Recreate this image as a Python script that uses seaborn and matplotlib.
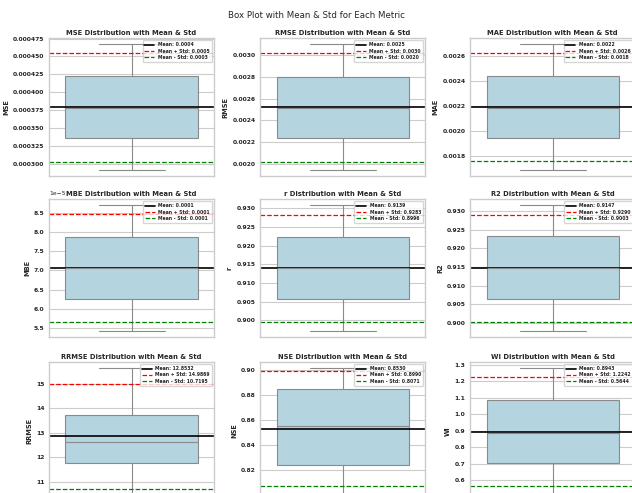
import matplotlib
matplotlib.use("Agg")
import matplotlib.pyplot as plt
import seaborn as sns
import pandas as pd

# ---------- Data ----------
metrics = ["MSE", "RMSE", "MAE", "MBE", "r", "R2", "RRMSE", "NSE", "WI"]

# five runs per metric
mse_values = [0.0002915, 0.0003356, 0.0003775, 0.0004225, 0.000467]
rmse_values = [0.001945, 0.002235, 0.00251, 0.002804, 0.003101]
mae_values = [0.001691, 0.001944, 0.002185, 0.002438, 0.0026957]
mbe_values = [5.431e-5, 6.25e-5, 7.06e-5, 7.879e-5, 8.698e-5]
r_values = [0.89726, 0.90566, 0.91393, 0.92239, 0.9308]
r2_values = [0.89794, 0.90638, 0.91466, 0.92316, 0.9315]
rrmse_values = [10.52, 11.752, 12.628, 13.733, 15.62]
nse_values = [0.801, 0.824, 0.85553, 0.88437, 0.9013]
wi_values = [0.516, 0.7016, 0.888, 1.085, 1.2797]

metric_means = [0.000379, 0.00252, 0.002193, 7.06e-5, 0.91393, 0.91466, 12.8532, 0.85305, 0.8943]
metric_stds = [0.000076, 0.0005, 0.000434, 1.41e-5, 0.01437, 0.01435, 2.1337, 0.04595, 0.3299]

df = pd.DataFrame(dict(zip(metrics, [mse_values, rmse_values, mae_values, mbe_values,
                                     r_values, r2_values, rrmse_values, nse_values, wi_values])))

# ---------- Style ----------
sns.set_theme(style="whitegrid")
plt.rcParams["font.family"] = ["DejaVu Sans"]
plt.rcParams["font.weight"] = "bold"
plt.rcParams["ytick.labelsize"] = 4.3
plt.rcParams["axes.labelweight"] = "bold"
plt.rcParams["axes.titleweight"] = "bold"
plt.rcParams["axes.linewidth"] = 1.0
plt.rcParams["grid.linewidth"] = 0.8

# ---------- Layout (pixels, figure is cropped on right/bottom like the original) ----------
W, H = 632, 493
col_left = [49, 260, 470]
row_top = [38, 199, 362]
ax_w, ax_h = 165, 138

fig = plt.figure(figsize=(W / 100, H / 100), dpi=100)
fig.suptitle("Box Plot with Mean & Std for Each Metric", fontsize=6.2, fontweight="normal",
             y=1 - 16 / H, va="center")

for i, metric in enumerate(metrics):
    row, col = divmod(i, 3)
    ax = fig.add_axes([col_left[col] / W, 1 - (row_top[row] + ax_h) / H, ax_w / W, ax_h / H])
    sns.boxplot(y=df[metric], ax=ax, color="lightblue", linewidth=0.8, linecolor="#8a8a8a")

    m, s = metric_means[i], metric_stds[i]
    ax.axhline(m, color="black", linewidth=1.2, label=f"Mean: {m:.4f}")
    ax.axhline(m + s, color="red", linestyle="--", linewidth=0.9, label=f"Mean + Std: {m + s:.4f}")
    ax.axhline(m - s, color="green", linestyle="--", linewidth=0.9, label=f"Mean - Std: {m - s:.4f}")

    ax.set_title(f"{metric} Distribution with Mean & Std", fontsize=4.9, pad=2.5)
    ax.set_ylabel(metric, fontsize=4.8, labelpad=2.5)
    ax.set_xlabel("")
    ax.set_xticklabels([])
    ax.tick_params(axis="both", length=0)
    ax.tick_params(axis="y", pad=3.3)
    ax.yaxis.get_offset_text().set_fontweight("normal")
    ax.yaxis.get_offset_text().set_fontsize(4.3)
    ax.legend(loc="upper right", fontsize=3.3, borderpad=0.4, labelspacing=0.3, handlelength=2.2)

fig.savefig("out.png", dpi=100)
